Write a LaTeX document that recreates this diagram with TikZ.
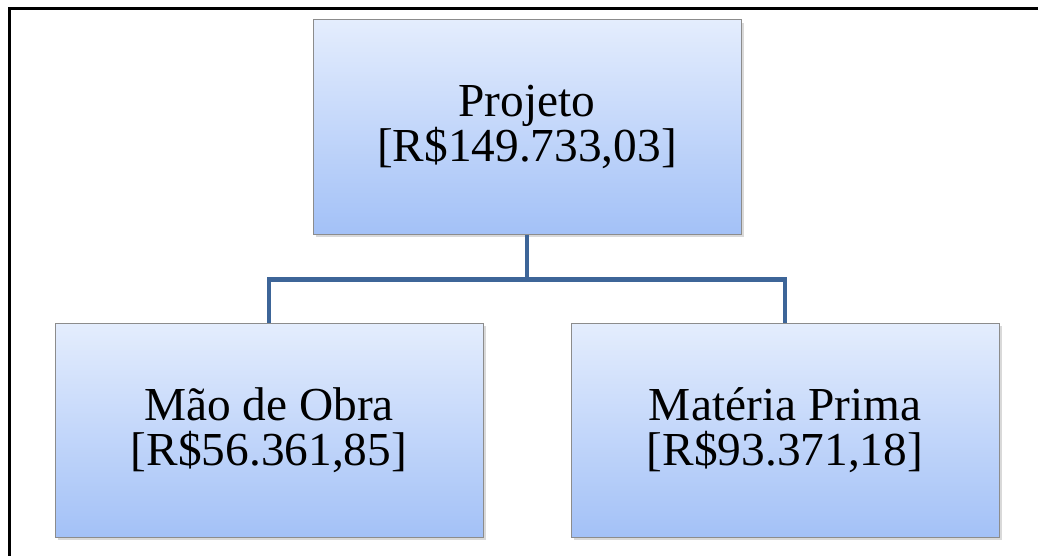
\documentclass[tikz,border=0pt]{standalone}
\usepackage{fontspec}
\setmainfont{Liberation Serif}
\usetikzlibrary{positioning,shadows}
\definecolor{topo}{RGB}{228,237,253}
\definecolor{fundo}{RGB}{163,193,247}
\definecolor{borda}{RGB}{140,140,140}
\definecolor{linha}{RGB}{61,101,152}
\tikzstyle{caixa} = [rectangle, minimum width=321pt, minimum height=160.5pt, text centered, align=center, line width=0.75pt, draw=borda, top color=topo, bottom color=fundo, drop shadow={shadow xshift=2pt, shadow yshift=-2.5pt, opacity=0.3}, font=\fontsize{35.5}{34}\selectfont]
\tikzstyle{ligacao} = [line width=3.2pt, draw=linha]

\begin{document}
\begin{tikzpicture}[x=0.75pt, y=-0.75pt, node distance=227.25pt and 193.5pt, on grid]
\useasboundingbox (0,0) rectangle (1038,556);
\draw[line width=2.25pt] (9,556) -- (9,9) -- (1038,9);

\node (projeto) [caixa] at (527,127) {Projeto\\{}[R\$149.733,03]};
\node (maodeobra) [caixa, below left=of projeto] {Mão de Obra\\{}[R\$56.361,85]};
\node (materia) [caixa, below right=of projeto] {Matéria Prima\\{}[R\$93.371,18]};

\draw[ligacao] (projeto.south) -- ++(0,45) coordinate (juncao) -| (maodeobra.north);
\draw[ligacao] (juncao) -| (materia.north);
\end{tikzpicture}
\end{document}
